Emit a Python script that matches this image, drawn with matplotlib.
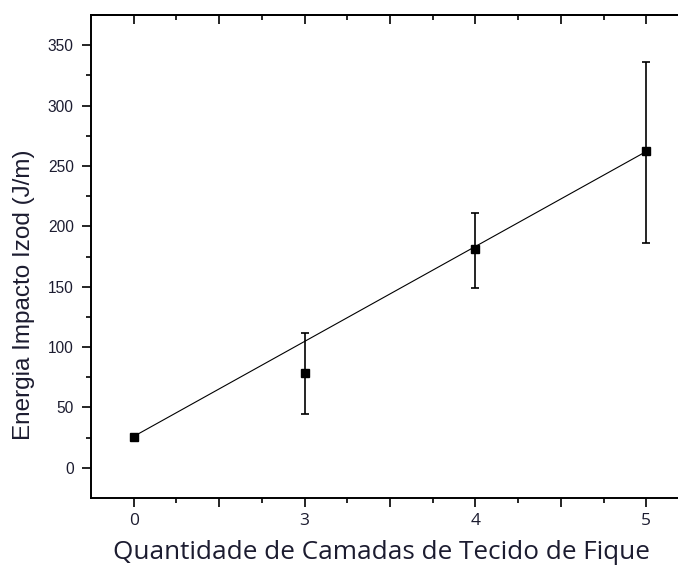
import matplotlib
matplotlib.use("Agg")
import matplotlib.pyplot as plt
from matplotlib.ticker import FixedLocator, FixedFormatter

# dados
camadas = ["0", "3", "4", "5"]
energia = [25.6, 78.6, 181, 262]
erro_sup = [1, 33, 30, 74]   # barra acima da media
erro_inf = [1, 34, 32, 76]   # barra abaixo da media
ajuste = [26, 262]           # reta de ajuste (primeira e ultima camada)

cor_txt = "#1c1c30"

fig = plt.figure(figsize=(6.78, 5.68), dpi=100)
ax = fig.add_axes([91/678, 70/568, 598/678, 483/568])

pos = list(range(len(camadas)))

# reta
ax.plot([pos[0], pos[-1]], ajuste, color="black", lw=0.8, zorder=2)
# pontos com barras de erro
ax.errorbar(pos, energia, yerr=[erro_inf, erro_sup], fmt="s", color="black",
            ms=5.8, elinewidth=1.2, capsize=2.9, capthick=1.2, zorder=3)

ax.set_xlim(-0.25, 3.25)
ax.set_ylim(-25, 375)

# eixo x: ticks a cada meia unidade, rotulos so nas categorias
maj = [0, 0.5, 1, 1.5, 2, 2.5, 3]
lab = []
for m in maj:
    if m == int(m):
        lab.append(camadas[int(m)])
    else:
        lab.append("")
ax.xaxis.set_major_locator(FixedLocator(maj))
ax.xaxis.set_major_formatter(FixedFormatter(lab))
ax.xaxis.set_minor_locator(FixedLocator([0.25, 0.75, 1.25, 1.75, 2.25, 2.75]))

ax.set_yticks(range(0, 351, 50))
ax.yaxis.set_minor_locator(FixedLocator(range(25, 351, 50)))

ax.tick_params(which="major", direction="out", length=6.5, width=1.2, color="black")
ax.tick_params(which="minor", direction="out", length=3.6, width=1.2, color="black")
ax.tick_params(axis="y", labelsize=11.2, labelcolor=cor_txt, pad=6,
               labelfontfamily="Liberation Sans")
ax.tick_params(axis="x", labelsize=12.5, labelcolor=cor_txt, pad=4,
               labelfontfamily="Open Sans")

ax.spines["right"].set_visible(False)
for s in ["left", "bottom", "top"]:
    ax.spines[s].set_linewidth(1.4)

# eixo de cima com ticks para dentro
top = ax.secondary_xaxis("top")
top.xaxis.set_major_locator(FixedLocator(maj))
top.xaxis.set_minor_locator(FixedLocator([0.25, 0.75, 1.25, 1.75, 2.25, 2.75]))
top.tick_params(which="major", direction="in", length=6.5, width=1.2, labeltop=False)
top.tick_params(which="minor", direction="in", length=3.6, width=1.2)
top.spines["top"].set_linewidth(1.4)

ax.set_ylabel("Energia Impacto Izod (J/m)", fontsize=17.5, color=cor_txt,
              fontfamily="Liberation Sans")
ax.yaxis.set_label_coords(-0.0936, 0.4213)
ax.set_xlabel("Quantidade de Camadas de Tecido de Fique", fontsize=18.8,
              color=cor_txt, fontfamily="Open Sans")
ax.xaxis.set_label_coords(0.4858, -0.087)

fig.savefig("out.png", dpi=100)
